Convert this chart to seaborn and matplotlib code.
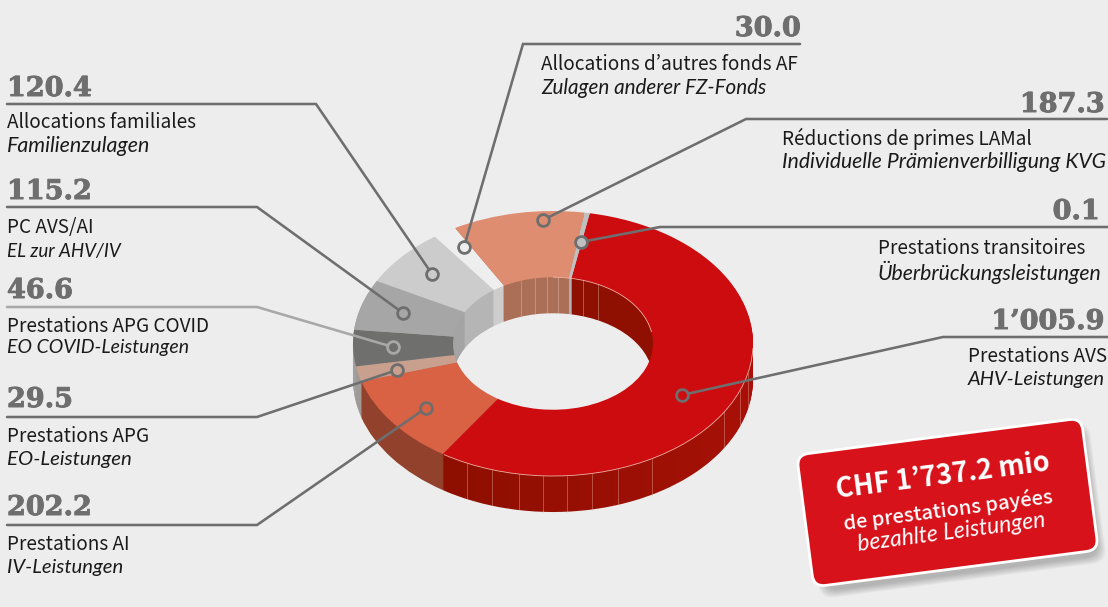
import matplotlib
matplotlib.use('Agg')
import matplotlib.pyplot as plt
import matplotlib.patheffects as pe
import numpy as np
import seaborn as sns
from matplotlib.patches import Arc, FancyBboxPatch
from matplotlib.transforms import Affine2D

# Printed amounts, as labelled in the picture
amount_labels = ['1’005.9', '202.2', '29.5', '46.6', '115.2', '120.4', '30.0', '187.3', '0.1']
french = ['Prestations AVS', 'Prestations AI', 'Prestations APG', 'Prestations APG COVID', 'PC AVS/AI',
          'Allocations familiales', 'Allocations d’autres fonds AF', 'Réductions de primes LAMal',
          'Prestations transitoires']
german = ['AHV-Leistungen', 'IV-Leistungen', 'EO-Leistungen', 'EO COVID-Leistungen', 'EL zur AHV/IV',
          'Familienzulagen', 'Zulagen anderer FZ-Fonds', 'Individuelle Prämienverbilligung KVG',
          'Überbrückungsleistungen']
# Lato capitals run wide, so each italic line gets its own size to keep the width
german_sizes = [14.5, 14.6, 14.7, 14, 13.5, 15.4, 14.9, 15.2, 15.3]

# Slice sizes as drawn in the picture, degrees (not quite proportional to the amounts)
slice_degrees = [202.8, 40.0, 6.6, 15.9, 22.2, 25.6, 6.9, 38.4, 1.5]
top_colors = ['#cd0c10', '#d96245', '#c99f8d', '#6f6f6d', '#a6a6a6', '#cccccc', '#eeeeee', '#df8d71', '#c0c0c0']
wall_colors = ['#8f0f00', '#92422c', '#a09a96', '#a0a0a0', '#a4a4a4', '#b5b5b5', '#cdcdcd', '#ab6f58', '#b0b0b0']

# Wall facet seams, x position on the ellipse
outer_seams = [-.432, -.307, -.168, -.048, .068, .193, .323, .493, .857, .935, .975]
inner_seams = [-.158, -.092, -.032, .027, .148, .223]

BG = '#ededed'
W, H = 1108, 607
CX, CY, RX, RY, DEPTH = 553, 343.5, 200, 132.5, 36

sns.set_theme(style='white', rc={'figure.facecolor': BG, 'axes.facecolor': BG, 'savefig.facecolor': BG})
SANS = ['Noto Sans CJK JP', 'DejaVu Sans']
ITALIC = 'Lato'
SLAB = 'DejaVu Serif'
GREY = '#6e6e6e'

fig = plt.figure(figsize=(W / 100, H / 100), dpi=100)
ax = fig.add_axes([0, 0, 1, 1])

# red wall gets lighter towards the right, so split it up
n_red = 12
red_rest = (slice_degrees[0] - 80) / n_red
wall_sizes = [80] + [red_rest] * n_red + slice_degrees[1:]
wall_cols = ['#8f0f00'] + sns.blend_palette(['#ab1008', '#8e0f00'], n_red) + wall_colors[1:]
START = 90 - 10.6

# extrude the ring by stacking pies, deepest first
for off in np.arange(DEPTH, 0, -1.0):
    ax.pie(wall_sizes, colors=wall_cols, startangle=START, counterclock=False, radius=1,
           center=(0, -off / RY), wedgeprops=dict(width=0.5, linewidth=0))
ax.pie(slice_degrees, colors=top_colors, startangle=START, counterclock=False, radius=1,
       center=(0, 0), wedgeprops=dict(width=0.5, linewidth=0))
ax.set_aspect('auto')
ax.set_xlim(-CX / RX, (W - CX) / RX)
ax.set_ylim(-(H - CY) / RY, CY / RY)
ax.axis('off')

# seams on the walls
d = DEPTH / RY
for x in outer_seams:
    y = -np.sqrt(1 - x ** 2)
    ax.plot([x, x], [y, y - d], color='#e9b5a8', lw=0.7, alpha=0.4, zorder=5)
for x in inner_seams:
    y = np.sqrt(0.25 - x ** 2)
    ax.plot([x, x], [y, y - d], color='#e9c5b8', lw=0.7, alpha=0.4, zorder=5)
ax.add_patch(Arc((0, 0), 2, 2, theta1=-123, theta2=-2, color='#eeb0a8', lw=0.6, zorder=6))
ax.add_patch(Arc((0, 0), 1, 1, theta1=10, theta2=90, color='#eeb0a8', lw=0.6, zorder=6))

# overlay in pixel coordinates for leaders, labels and the box
ov = fig.add_axes([0, 0, 1, 1], facecolor='none')
ov.set_xlim(0, W)
ov.set_ylim(H, 0)
ov.axis('off')

# leader: bar start, bar end, dot
leaders = [((1108, 337), (943, 337), (682, 395)),
           ((7, 525), (257, 525), (426, 408)),
           ((7, 417), (257, 417), (397, 370)),
           ((7, 307), (257, 307), (393, 347)),
           ((7, 207), (257, 207), (403, 313)),
           ((7, 104), (316, 104), (432, 274)),
           ((800, 44), (523, 44), (464, 247)),
           ((1107, 119), (746, 119), (543, 220)),
           ((1108, 227), (660, 227), (581, 242))]
for i, (a, b, c) in enumerate(leaders):
    col = '#a8a8a8' if i == 3 else GREY
    ov.plot([a[0], b[0], c[0]], [a[1], b[1], c[1]], color=col, lw=1.85, solid_joinstyle='miter')
    ov.plot([c[0]], [c[1]], 'o', ms=8.5, mfc=top_colors[i], mec=col, mew=2)

# number pos (x, baseline, ha), then x and centre y of the two text lines
label_pos = [((1105, 329, 'right'), 968, 355, 379),
             ((7, 515, 'left'), 7, 543, 567),
             ((7, 407, 'left'), 7, 435, 459),
             ((7, 298, 'left'), 7, 324, 347),
             ((7, 199, 'left'), 7, 225, 250),
             ((7, 96, 'left'), 7, 121, 145),
             ((801, 36, 'right'), 541, 62, 87),
             ((1105, 112, 'right'), 782, 137, 161),
             ((1100, 219, 'right'), 878, 247, 271)]
for i, (num, x, y1, y2) in enumerate(label_pos):
    t = ov.text(num[0], num[1], amount_labels[i], ha=num[2], va='baseline', family=SLAB, weight='bold',
                fontsize=19.5, color=GREY)
    t.set_path_effects([pe.withStroke(linewidth=0.7, foreground=GREY)])
    ov.text(x, y1 + 2, french[i], ha='left', va='center', family=SANS, fontsize=13.7, color='#1a1a1a')
    ov.text(x, y2 + 1, german[i], ha='left', va='center', family=ITALIC, style='italic',
            fontsize=german_sizes[i], color='#1a1a1a')

# red box with soft shadow
bx, by, bw, bh = 947.5, 502.5, 287, 133
rot = Affine2D().rotate_deg_around(bx, by, -7.4) + ov.transData
for k in range(8):
    sh = FancyBboxPatch((bx - bw / 2 + 12 - k, by - bh / 2 + 12 - k), bw - 12 + 2 * k, bh - 6 + 2 * k,
                        boxstyle='round,pad=0,rounding_size=14', fc='black', ec='none', alpha=0.03, transform=rot)
    ov.add_patch(sh)
box = FancyBboxPatch((bx - bw / 2, by - bh / 2), bw, bh, boxstyle='round,pad=0,rounding_size=12',
                     fc='#d7121b', ec='white', lw=2, transform=rot)
ov.add_patch(box)
ov.text(943, 476, 'CHF 1’737.2 mio', color='white', family=SANS, weight='bold', fontsize=19.5, rotation=7.4,
        ha='center', va='center', rotation_mode='anchor')
ov.text(948, 510, 'de prestations payées', color='white', family=SANS, weight='medium', fontsize=14.5, rotation=7.4,
        ha='center', va='center', rotation_mode='anchor')
ov.text(951, 532, 'bezahlte Leistungen', color='white', family=ITALIC, style='italic', fontsize=16.5, rotation=7.4,
        ha='center', va='center', rotation_mode='anchor')

fig.savefig('out.png', dpi=100)
